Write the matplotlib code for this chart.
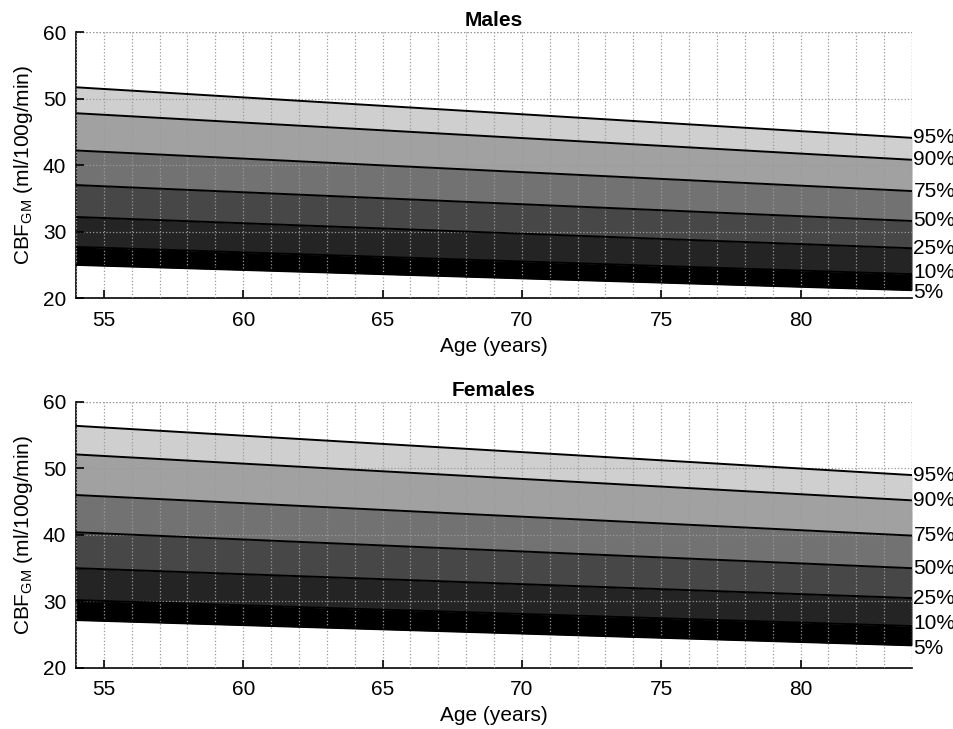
import numpy as np
import matplotlib
matplotlib.use("Agg")
import matplotlib.pyplot as plt
from matplotlib.ticker import MultipleLocator

plt.rcParams['font.family'] = ['Liberation Sans', 'DejaVu Sans']

# age range (years) at the two ends of each percentile line
ages = [54, 84]
pct_labels = ['95%', '90%', '75%', '50%', '25%', '10%', '5%']

# CBF_GM percentile values at ages[0] and ages[1]
males = {
    '95%': [51.7, 44.1],
    '90%': [47.8, 40.8],
    '75%': [42.2, 36.1],
    '50%': [37.0, 31.6],
    '25%': [32.2, 27.5],
    '10%': [27.7, 23.6],
    '5%':  [25.0, 21.2],
}
females = {
    '95%': [56.4, 49.0],
    '90%': [52.1, 45.2],
    '75%': [46.0, 39.9],
    '50%': [40.4, 35.0],
    '25%': [35.0, 30.5],
    '10%': [30.2, 26.3],
    '5%':  [27.2, 23.4],
}

band_colors = ['#cfcfcf', '#a1a1a1', '#727272', '#474747', '#242424', '#000000']
FS = 15
# small vertical nudge (points) so the two lowest labels don't collide
nudge = {'10%': 1.5, '5%': -2.0}

fig = plt.figure(figsize=(9.54, 7.29), dpi=100)
ax1 = fig.add_axes([0.0797, 0.591, 0.8763, 0.365])
ax2 = fig.add_axes([0.0797, 0.0837, 0.8763, 0.365])


def draw(ax, data, title):
    x = np.array(ages)
    for i in range(len(pct_labels) - 1):
        hi = np.array(data[pct_labels[i]])
        lo = np.array(data[pct_labels[i + 1]])
        ax.fill_between(x, lo, hi, color=band_colors[i], lw=0, zorder=1)
    for p in pct_labels:
        ax.plot(x, data[p], color='black', lw=1.4, zorder=3)
        ax.annotate(p, (ages[1], data[p][1]), xytext=(1, nudge.get(p, 0)),
                    textcoords='offset points', fontsize=FS, va='center',
                    ha='left', annotation_clip=False)
    ax.set_xlim(ages[0], ages[1])
    ax.set_ylim(20, 60)
    ax.xaxis.set_minor_locator(MultipleLocator(1))
    ax.yaxis.set_major_locator(MultipleLocator(10))
    ax.set_xticks([55, 60, 65, 70, 75, 80])
    ax.grid(which='both', axis='x', color='#9a9a9a', ls=':', lw=0.9, zorder=2)
    ax.grid(which='major', axis='y', color='#9a9a9a', ls=':', lw=0.9, zorder=2)
    ax.set_axisbelow(False)
    for s in ['top', 'right']:
        ax.spines[s].set_visible(False)
    ax.axvline(ages[1], color='#9a9a9a', ls=':', lw=0.9, zorder=2)
    ax.axhline(60, color='#9a9a9a', ls=':', lw=0.9, zorder=2)
    for s in ['left', 'bottom']:
        ax.spines[s].set_linewidth(1.2)
    ax.tick_params(which='major', direction='in', length=6, width=1.2, labelsize=FS)
    ax.tick_params(axis='x', pad=9)
    ax.tick_params(axis='y', pad=7)
    ax.tick_params(which='minor', length=0)
    ax.set_xlabel('Age (years)', fontsize=FS, labelpad=5)
    ax.set_ylabel('CBF$_{\\mathregular{GM}}$ (ml/100g/min)', fontsize=FS, labelpad=6)
    ax.set_title(title, fontsize=FS, fontweight='bold', pad=4.5)


draw(ax1, males, 'Males')
draw(ax2, females, 'Females')

fig.savefig('out.png', dpi=100)
